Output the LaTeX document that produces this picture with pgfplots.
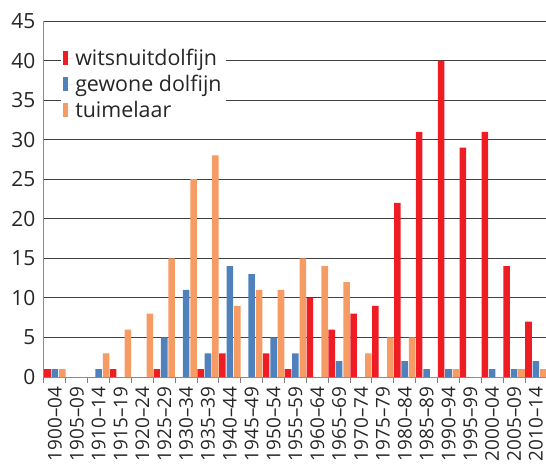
\documentclass[border=0pt]{standalone}
\usepackage{fontspec}
\setmainfont{Open Sans}
\usepackage{pgfplots}
\usepackage{pgfplotstable}
\pgfplotsset{compat=1.18}
\definecolor{cred}{HTML}{EE1D24}
\definecolor{cblue}{HTML}{4F81BD}
\definecolor{corange}{HTML}{F79B64}
\pgfplotstableread{
x red blue orange
0 1 1 1
1 0 0 0
2 0 1 3
3 1 0 6
4 0 0 8
5 1 5 15
6 0 11 25
7 1 3 28
8 3 14 9
9 0 13 11
10 3 5 11
11 1 3 15
12 10 0 14
13 6 2 12
14 8 0 3
15 9 0 5
16 22 2 5
17 31 1 0
18 40 1 1
19 29 0 0
20 31 1 0
21 14 1 1
22 7 2 1
}\data
\pgfplotsset{barleg/.style={legend image code/.code={\path[##1] (0bp,-7bp) rectangle (5bp,7bp); \path (0bp,0bp) -- (10bp,0bp);}}}
\begin{document}
\begin{tikzpicture}
\useasboundingbox (-44bp,-96bp) rectangle (502bp,377bp);
\begin{axis}[
  at={(0,0)}, anchor=south west,
  scale only axis, width=502bp, height=356bp,
  ybar, bar width=0.3,
  xmin=-0.5, xmax=22.46, ymin=0, ymax=45,
  axis x line*=bottom, axis y line*=left,
  axis line style={black!45, line width=1bp},
  ytick={0,5,...,45},
  xtick={0,...,22},
  xticklabels={1900–04,1905–09,1910–14,1915–19,1920–24,1925–29,1930–34,1935–39,1940–44,1945–49,1950–54,1955–59,1960–64,1965–69,1970–74,1975–79,1980–84,1985–89,1990–94,1995–99,2000–04,2005–09,2010–14},
  minor xtick={-0.5,0.5,...,22.5},
  x tick label style={rotate=90, anchor=east, xshift=-2bp, font=\fontsize{19}{22}\selectfont},
  y tick label style={font=\fontsize{21}{24}\selectfont, xshift=-1bp},
  major x tick style={draw=none},
  minor x tick style={black!50, line width=1bp},
  minor tick length=6bp,
  xtick pos=bottom, tick align=outside,
  ytick style={draw=none},
  ymajorgrids, major grid style={black!75, line width=1bp},
  /pgf/number format/assume math mode=true,
  tick label style={text=black!85},
  legend style={at={(0.034,0.932)}, anchor=north west, draw=none, fill=white,
     font=\fontsize{21.5}{24}\selectfont, text=black!85, row sep=4bp, inner sep=2bp},
  legend cell align=left,
]
\addplot[fill=cred, draw=none, bar shift=-0.34, barleg] table[x=x,y=red]{\data};
\addplot[fill=cblue, draw=none, bar shift=0, barleg] table[x=x,y=blue]{\data};
\addplot[fill=corange, draw=none, bar shift=0.34, barleg] table[x=x,y=orange]{\data};
\legend{witsnuitdolfijn, gewone dolfijn, tuimelaar}
\end{axis}
\end{tikzpicture}
\end{document}
